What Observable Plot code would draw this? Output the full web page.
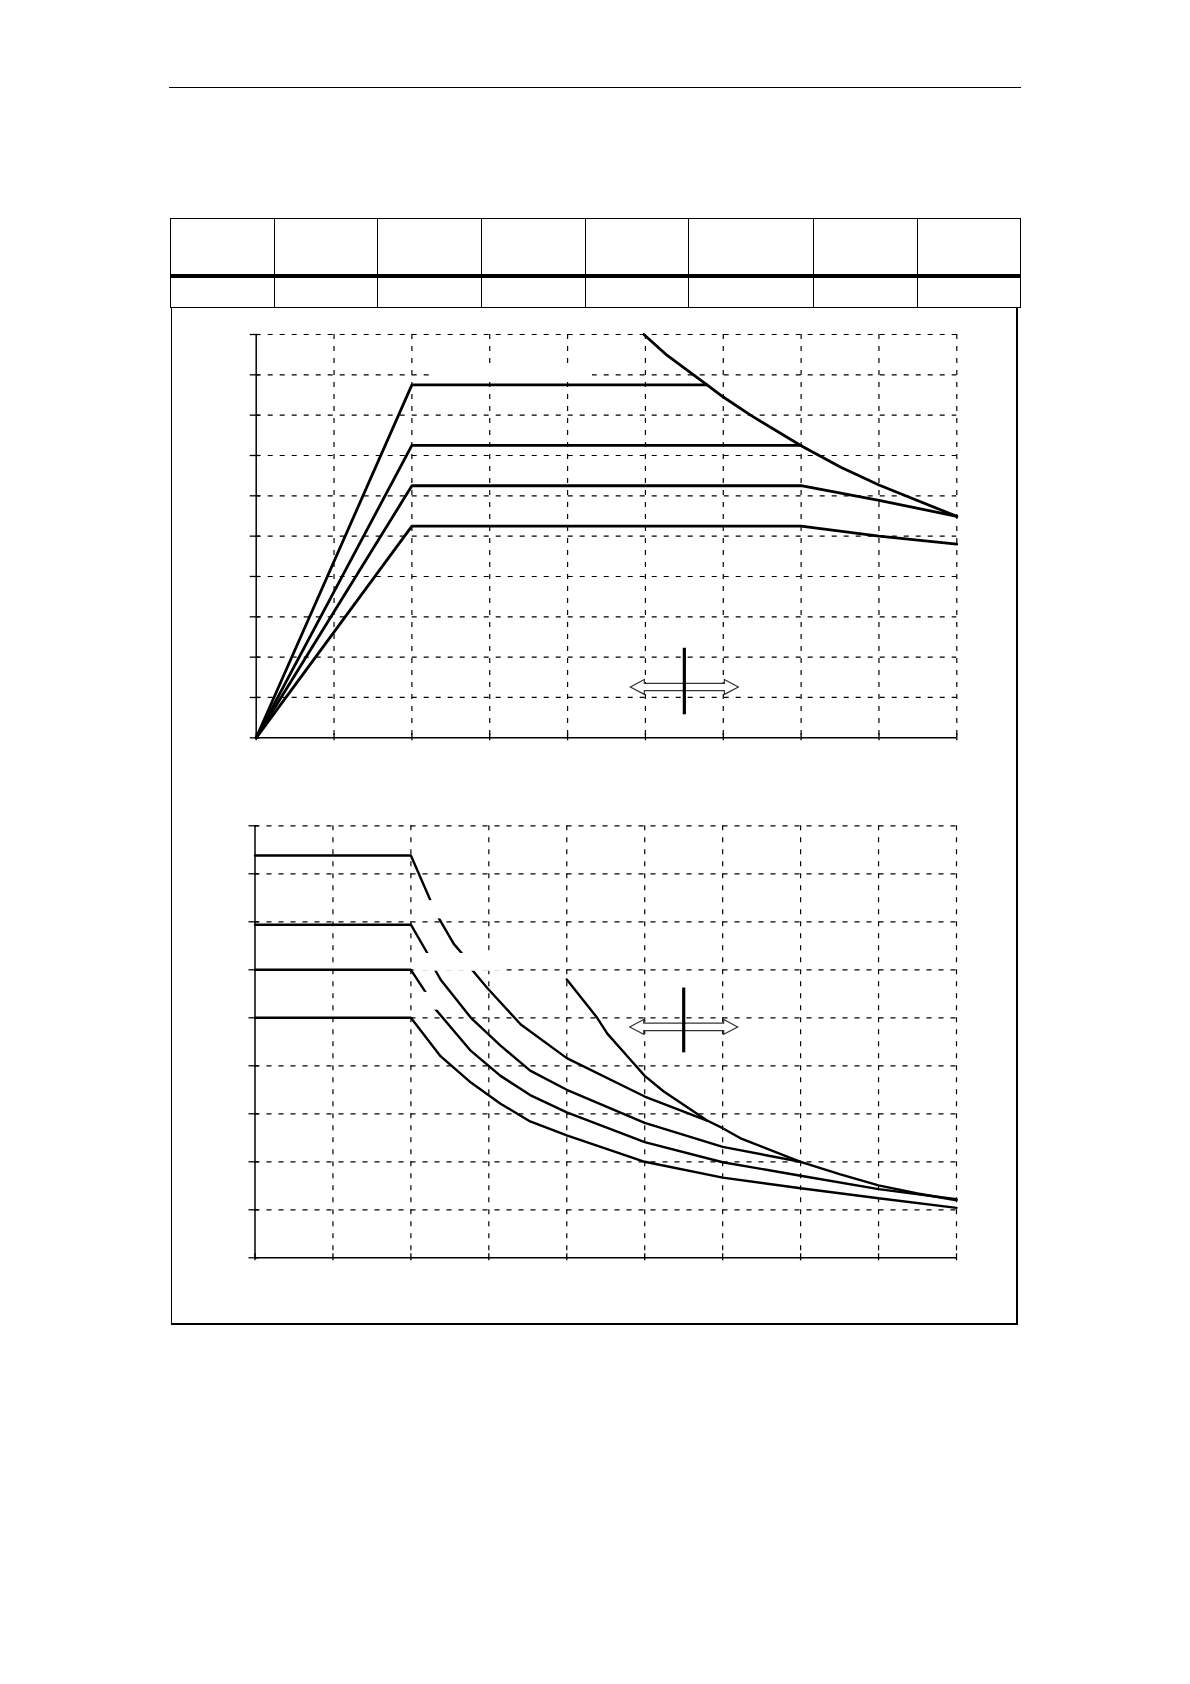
<!DOCTYPE html>
<html>
<head>
<meta charset="utf-8">
<script src="https://cdn.jsdelivr.net/npm/d3@7"></script>
<script src="https://cdn.jsdelivr.net/npm/@observablehq/plot@0.6"></script>
<style>
  html, body { margin: 0; padding: 0; background: #fff; }
  #page { position: relative; width: 1190px; height: 1684px; overflow: hidden; background: #fff;
          font-family: "Liberation Sans", Arial, sans-serif; }
  .ln { position: absolute; background: #000; }
  .chart { position: absolute; }
  .chart svg { overflow: visible; }
</style>
</head>
<body>
<div id="page"></div>
<script>
// ---------- data ----------
const xTicks = [0, 1, 2, 3, 4, 5, 6, 7, 8, 9];
const powerTicks = [0, 1, 2, 3, 4, 5, 6, 7, 8, 9, 10];
const torqueTicks = [0, 1, 2, 3, 4, 5, 6, 7, 8, 9];

// upper diagram (rise to corner point, constant, then limited)
const power1 = [[0, 0], [2, 8.75], [5.79, 8.75]];
const power2 = [[0, 0], [2, 7.25], [7, 7.25]];
const power3 = [[0, 0], [2, 6.25], [7, 6.25], [8, 5.89], [9, 5.49]];
const power4 = [[0, 0], [2, 5.25], [7, 5.25], [8, 5.0], [9, 4.80]];
const powerLimit = [[4.98, 10], [5.28, 9.48], [5.8, 8.74], [6, 8.45], [6.35, 8.0], [7, 7.24], [7.51, 6.71], [8, 6.27], [9, 5.49]];

// lower diagram (constant, then falling)
const torque1 = [[0, 8.38], [2, 8.38], [2.25, 7.45], [2.36, 7.07], [2.55, 6.54], [2.65, 6.35], [2.8, 5.97], [2.98, 5.62], [3.41, 4.86], [4, 4.16], [5, 3.36], [5.8, 2.86]];
const torque2 = [[0, 6.94], [2, 6.94], [2.21, 6.35], [2.32, 5.97], [2.38, 5.8], [2.77, 5.0], [3.15, 4.42], [3.53, 3.9], [4, 3.5], [5, 2.81], [6, 2.31], [7, 2.0]];
const torque3 = [[0, 6.0], [2, 6.0], [2.19, 5.53], [2.32, 5.17], [2.77, 4.31], [3.15, 3.79], [3.53, 3.39], [4, 3.03], [5, 2.41], [6, 1.99], [7, 1.71], [8, 1.43], [9, 1.22]];
const torque4 = [[0, 5.0], [2, 5.0], [2.38, 4.2], [2.77, 3.65], [3.15, 3.21], [3.53, 2.84], [4, 2.55], [5, 2.0], [6, 1.67], [7, 1.45], [8, 1.24], [9, 1.04]];
const torqueLimit = [[4, 5.8], [4.39, 5.0], [4.52, 4.67], [4.82, 4.12], [5, 3.79], [5.24, 3.47], [5.8, 2.86], [6, 2.70], [6.23, 2.49], [7, 2.0], [7.51, 1.74], [8, 1.51], [8.5, 1.34], [9, 1.20]];

// blank label areas [x1, x2, y1, y2]
const powerBlank = [[2.26, 4.32, 8.85, 9.15]];
const torqueBlank = [[2.15, 2.6, 7.06, 7.44], [2.04, 3.23, 5.97, 6.34], [2.1, 2.42, 5.16, 5.53]];

// double-arrow marker [x, y, barLow, barHigh]
const powerMarker = [[5.5, 1.26, 0.57, 2.22]];
const torqueMarker = [[5.5, 4.81, 4.27, 5.62]];

// ---------- page furniture ----------
const page = document.getElementById("page");
function box(left, top, w, h) {
  const d = document.createElement("div");
  d.className = "ln";
  d.style.left = left + "px"; d.style.top = top + "px";
  d.style.width = w + "px"; d.style.height = h + "px";
  page.appendChild(d);
}
// header rule
box(169.3, 86.6, 851.7, 1.5);
// table
const tableCols = [170.7, 274.3, 377.3, 481.3, 585.7, 688.3, 813.3, 917.7, 1020.7];
const tTop = 217.6, tBottom = 306.6;
box(170.0, tTop, 851.4, 1.6);
box(170.0, 274.0, 851.4, 4.2);
box(170.0, tBottom, 851.4, 1.6);
tableCols.forEach(c => box(c - 0.8, tTop, 1.6, tBottom - tTop + 1.6));
// frame
box(170.6, tBottom, 1.5, 1324.6 - tBottom);
box(1016.0, tBottom, 1.5, 1324.6 - tBottom);
box(170.6, 1323.2, 846.9, 1.5);

// ---------- charts ----------
const doubleArrow = {
  draw(ctx) {
    const L = 54, H = 14, hh = 7.4, sh = 3.7;
    ctx.moveTo(-L, 0);
    ctx.lineTo(-L + H, -hh);
    ctx.lineTo(-L + H, -sh);
    ctx.lineTo(L - H, -sh);
    ctx.lineTo(L - H, -hh);
    ctx.lineTo(L, 0);
    ctx.lineTo(L - H, hh);
    ctx.lineTo(L - H, sh);
    ctx.lineTo(-L + H, sh);
    ctx.lineTo(-L + H, hh);
    ctx.closePath();
  }
};

function toRows(named) {
  return Object.entries(named).flatMap(([name, pts]) => pts.map(([x, y]) => ({series: name, x, y})));
}

function makeChart({left, top, width, height, margins, yMax, yTicks, series, blanks, marker, strokeWidth}) {
  const rows = toRows(series);
  const blankRows = blanks.map(([x1, x2, y1, y2]) => ({x1, x2, y1, y2}));
  const markRows = marker.map(([x, y, lo, hi]) => ({x, y, lo, hi}));
  const svg = Plot.plot({
    width, height,
    marginLeft: margins[0], marginRight: margins[1], marginTop: margins[2], marginBottom: margins[3],
    style: {background: "transparent", overflow: "visible"},
    x: {domain: [0, 9]},
    y: {domain: [0, yMax]},
    marks: [
      Plot.ruleX(xTicks.slice(1), {stroke: "#000", strokeWidth: 1.2, strokeDasharray: "5,7"}),
      Plot.ruleY(yTicks.slice(1), {stroke: "#000", strokeWidth: 1.2, strokeDasharray: "5,7"}),
      Plot.line(rows, {x: "x", y: "y", z: "series", stroke: "#000", strokeWidth, strokeLinejoin: "miter"}),
      Plot.rect(blankRows, {x1: "x1", x2: "x2", y1: "y1", y2: "y2", fill: "white"}),
      Plot.dot(markRows, {x: "x", y: "y", symbol: doubleArrow, fill: "white", stroke: "#333", strokeWidth: 1.2}),
      Plot.ruleX(markRows, {x: "x", y1: "lo", y2: "hi", stroke: "#000", strokeWidth: 3.2}),
      Plot.ruleY([0], {stroke: "#000", strokeWidth: 1.5}),
      Plot.ruleX([0], {stroke: "#000", strokeWidth: 1.5}),
      Plot.axisX(xTicks, {tickSize: 7, dy: -4, fill: "none", stroke: "#000", strokeWidth: 1.3, label: null}),
      Plot.axisY(yTicks, {tickSize: 10, dx: 4, fill: "none", stroke: "#000", strokeWidth: 1.3, label: null})
    ]
  });
  const holder = document.createElement("div");
  holder.className = "chart";
  holder.style.left = left + "px";
  holder.style.top = top + "px";
  holder.appendChild(svg);
  page.appendChild(holder);
}

makeChart({
  left: 180, top: 315, width: 820, height: 445,
  margins: [75.7, 43.7, 19, 22.7],
  yMax: 10, yTicks: powerTicks,
  series: {power1, power2, power3, power4, powerLimit},
  blanks: powerBlank, marker: powerMarker, strokeWidth: 2.8
});

makeChart({
  left: 180, top: 805, width: 820, height: 475,
  margins: [74.5, 44, 20.3, 22.7],
  yMax: 9, yTicks: torqueTicks,
  series: {torque1, torque2, torque3, torque4, torqueLimit},
  blanks: torqueBlank, marker: torqueMarker, strokeWidth: 2.4
});
</script>
</body>
</html>
